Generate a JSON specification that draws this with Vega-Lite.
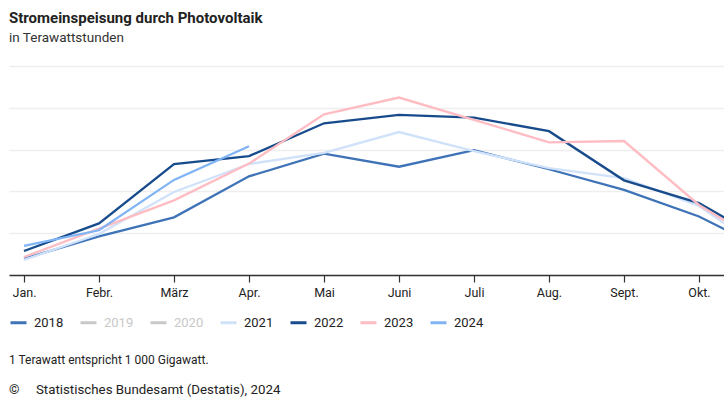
{
  "$schema": "https://vega.github.io/schema/vega-lite/v6.json",
  "padding": {"left": 9, "right": 0, "top": 10, "bottom": 0},
  "background": "white",
  "title": {
    "text": "Stromeinspeisung durch Photovoltaik",
    "subtitle": "in Terawattstunden",
    "anchor": "start",
    "font": "Roboto",
    "fontSize": 15,
    "fontWeight": "bold",
    "color": "#222222",
    "subtitleFont": "Roboto",
    "subtitleFontSize": 13.5,
    "subtitleColor": "#333333",
    "subtitlePadding": 5,
    "offset": 22
  },
  "resolve": {"scale": {"color": "independent"}, "legend": {"color": "independent"}},
  "vconcat": [
    {
      "width": 715,
      "height": 209,
      "title": {
        "text": "1 Terawatt entspricht 1 000 Gigawatt.",
        "subtitle": "©\u00a0\u00a0\u00a0\u00a0 Statistisches Bundesamt (Destatis), 2024",
        "orient": "bottom",
        "anchor": "start",
        "font": "Roboto",
        "fontSize": 12,
        "fontWeight": "normal",
        "color": "#222222",
        "subtitleFont": "Roboto",
        "subtitleFontSize": 13.3,
        "subtitleColor": "#222222",
        "subtitlePadding": 16,
        "offset": 25
      },
      "data": {
        "values": [
          {"year": "2018", "month": 1, "value": 0.78},
          {"year": "2018", "month": 2, "value": 1.85},
          {"year": "2018", "month": 3, "value": 2.76},
          {"year": "2018", "month": 4, "value": 4.72},
          {"year": "2018", "month": 5, "value": 5.81},
          {"year": "2018", "month": 6, "value": 5.18},
          {"year": "2018", "month": 7, "value": 5.97},
          {"year": "2018", "month": 8, "value": 5.06},
          {"year": "2018", "month": 9, "value": 4.07},
          {"year": "2018", "month": 10, "value": 2.8},
          {"year": "2018", "month": 11, "value": 1.0},
          {"year": "2021", "month": 1, "value": 0.72},
          {"year": "2021", "month": 2, "value": 1.96},
          {"year": "2021", "month": 3, "value": 3.97},
          {"year": "2021", "month": 4, "value": 5.31},
          {"year": "2021", "month": 5, "value": 5.84},
          {"year": "2021", "month": 6, "value": 6.84},
          {"year": "2021", "month": 7, "value": 5.93},
          {"year": "2021", "month": 8, "value": 5.11},
          {"year": "2021", "month": 9, "value": 4.64},
          {"year": "2021", "month": 10, "value": 3.3},
          {"year": "2021", "month": 11, "value": 0.86},
          {"year": "2022", "month": 1, "value": 1.15},
          {"year": "2022", "month": 2, "value": 2.47},
          {"year": "2022", "month": 3, "value": 5.31},
          {"year": "2022", "month": 4, "value": 5.69},
          {"year": "2022", "month": 5, "value": 7.26},
          {"year": "2022", "month": 6, "value": 7.66},
          {"year": "2022", "month": 7, "value": 7.53},
          {"year": "2022", "month": 8, "value": 6.88},
          {"year": "2022", "month": 9, "value": 4.53},
          {"year": "2022", "month": 10, "value": 3.44},
          {"year": "2022", "month": 11, "value": 1.39},
          {"year": "2023", "month": 1, "value": 0.86},
          {"year": "2023", "month": 2, "value": 2.22},
          {"year": "2023", "month": 3, "value": 3.57},
          {"year": "2023", "month": 4, "value": 5.33},
          {"year": "2023", "month": 5, "value": 7.69},
          {"year": "2023", "month": 6, "value": 8.49},
          {"year": "2023", "month": 7, "value": 7.42},
          {"year": "2023", "month": 8, "value": 6.35},
          {"year": "2023", "month": 9, "value": 6.41},
          {"year": "2023", "month": 10, "value": 3.35},
          {"year": "2023", "month": 11, "value": 1.17},
          {"year": "2024", "month": 1, "value": 1.39},
          {"year": "2024", "month": 2, "value": 2.14},
          {"year": "2024", "month": 3, "value": 4.55},
          {"year": "2024", "month": 4, "value": 6.16}
        ]
      },
      "mark": {"type": "line", "clip": true, "strokeWidth": 2.3},
      "encoding": {
        "x": {
          "field": "month",
          "type": "quantitative",
          "scale": {"domain": [0.8, 10.3333], "nice": false, "zero": false},
          "axis": {
            "values": [1, 2, 3, 4, 5, 6, 7, 8, 9, 10],
            "labelExpr": "['Jan.','Febr.','März','Apr.','Mai','Juni','Juli','Aug.','Sept.','Okt.','Nov.','Dez.'][datum.value - 1]",
            "grid": false,
            "title": null,
            "tickSize": 7,
            "tickColor": "#333333",
            "tickWidth": 1.2,
            "domainColor": "#333333",
            "domainWidth": 1.5,
            "labelFont": "Roboto",
            "labelFontSize": 12.5,
            "labelColor": "#222222",
            "labelPadding": 4,
            "labelFlush": false
          }
        },
        "y": {
          "field": "value",
          "type": "quantitative",
          "scale": {"domain": [0, 10], "nice": false},
          "axis": {
            "values": [0, 2, 4, 6, 8, 10],
            "grid": true,
            "gridColor": "#eeeeee",
            "gridWidth": 1.5,
            "ticks": false,
            "labels": false,
            "domain": false,
            "title": null
          }
        },
        "color": {
          "field": "year",
          "type": "nominal",
          "scale": {
            "domain": ["2018", "2019", "2020", "2021", "2022", "2023", "2024"],
            "range": ["#3f73b8", "#c8c8c8", "#c8c8c8", "#cfe2fa", "#174b8b", "#ffbcc2", "#80b4f5"]
          },
          "legend": {
            "title": null,
            "orient": "none",
            "legendX": 0,
            "legendY": 247,
            "direction": "horizontal",
            "columns": 7,
            "symbolType": "stroke",
            "symbolSize": 256,
            "symbolStrokeWidth": 3,
            "labelFont": "Roboto",
            "labelFontSize": 13,
            "labelColor": "#222222",
            "labelOffset": 6,
            "columnPadding": 10,
            "encode": {
              "labels": {
                "update": {
                  "fill": {"signal": "datum.label == '2019' || datum.label == '2020' ? '#c8c8c8' : '#222222'"}
                }
              }
            }
          }
        }
      }
    }
  ],
  "config": {"view": {"stroke": null}}
}
